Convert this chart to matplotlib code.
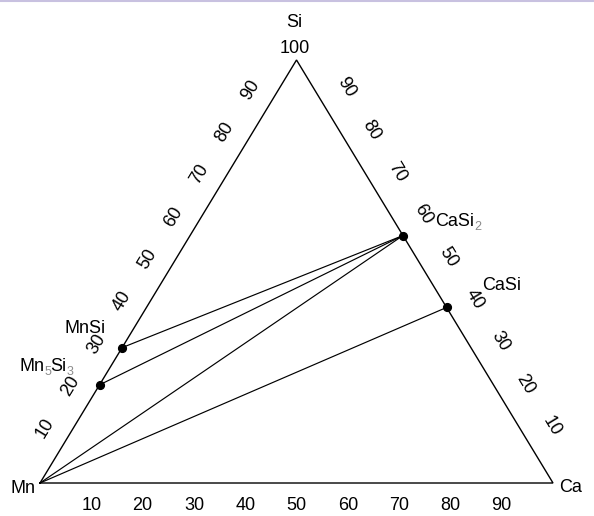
import numpy as np
import matplotlib.pyplot as plt
from matplotlib.lines import Line2D

plt.rcParams['font.family'] = ['Liberation Sans', 'DejaVu Sans']

# phases as drawn on the diagram (Ca %, Si %; rest is Mn)
compounds = ["MnSi", "Mn5Si3", "CaSi2", "CaSi"]
# label pieces: (text, is_subscript)
compound_labels = [
    [("MnSi", False)],
    [("Mn", False), ("5", True), ("Si", False), ("3", True)],
    [("CaSi", False), ("2", True)],
    [("CaSi", False)],
]
ca_pct = [0, 0, 41.5, 58.5]
si_pct = [32, 23.2, 58.5, 41.5]

# corners
corner_names = ["Mn", "Ca", "Si"]
corner_ca = [0, 100, 0]
corner_si = [0, 0, 100]

tie_lines = [("MnSi", "CaSi2"), ("Mn5Si3", "CaSi2"), ("Mn", "CaSi2"), ("Mn", "CaSi")]
ticks = [10, 20, 30, 40, 50, 60, 70, 80, 90]

FS = 13
SUB_FS = 9


def tern(ca, si):
    ca = np.asarray(ca, dtype=float)
    si = np.asarray(si, dtype=float)
    return ca / 100 + si / 200, si / 100


comp = {}
for n, c, s in zip(corner_names, corner_ca, corner_si):
    comp[n] = (c, s)
for n, c, s in zip(compounds, ca_pct, si_pct):
    comp[n] = (c, s)

fig = plt.figure(figsize=(5.94, 5.16), dpi=100)
ax = fig.add_axes([0, 0, 1, 1])
ax.set_xlim(-0.078, 1.0799)
ax.set_ylim(-0.078, 1.1418)
ax.axis('off')
renderer = fig.canvas.get_renderer()

# triangle
tx, ty = tern(corner_ca + corner_ca[:1], corner_si + corner_si[:1])
ax.plot(tx, ty, color='black', lw=1.0, solid_joinstyle='miter')

# tie lines
for a, b in tie_lines:
    x, y = tern([comp[a][0], comp[b][0]], [comp[a][1], comp[b][1]])
    ax.plot(x, y, color='black', lw=0.85)

# compound points
px, py = tern(ca_pct, si_pct)
ax.plot(px, py, 'o', color='black', ms=5.6, zorder=3)

# compound labels, subscripts small and grey
label_offsets = [(-37, 21), (-53, 20), (55, 16), (55, 24)]
for pieces, x, y, off in zip(compound_labels, px, py, label_offsets):
    widths = []
    for txt, sub in pieces:
        t = ax.text(0, 0, txt, fontsize=SUB_FS if sub else FS)
        widths.append(t.get_window_extent(renderer).width)
        t.remove()
    cur = off[0] - sum(widths) / 2
    base = off[1] - 6.5
    for (txt, sub), w in zip(pieces, widths):
        ax.annotate(txt, (x, y), xytext=(cur, base - 4 if sub else base),
                    textcoords='offset pixels', ha='left', va='baseline',
                    fontsize=SUB_FS if sub else FS,
                    color='#8c8c8c' if sub else 'black')
        cur += w - (1 if sub else 0)

# axis tick labels along edges
def disp(ca, si):
    return ax.transData.transform(np.column_stack(tern(ca, si)))[0]

pMn, pCa, pSi = disp(0, 0), disp(100, 0), disp(0, 100)

edges = [
    # start, end, value->(ca, si), outward side, offset px
    (pMn, pSi, lambda v: (0, v), 1, 24),
    (pCa, pSi, lambda v: (100 - v, v), -1, 28),
]
for p0, p1, f, side, dist in edges:
    d = (p1 - p0) / np.hypot(*(p1 - p0))
    normal = side * np.array([-d[1], d[0]])
    ang = np.degrees(np.arctan2(d[1], d[0]))
    if ang > 90:
        ang -= 180
    for v in ticks:
        x, y = tern(*f(v))
        ax.annotate(str(v), (x, y), xytext=normal * dist, textcoords='offset pixels',
                    ha='center', va='center', rotation=ang, rotation_mode='anchor',
                    fontsize=FS)

for v in ticks:
    x, y = tern(v, 0)
    ax.annotate(str(v), (x, y), xytext=(0, -22), textcoords='offset pixels',
                ha='center', va='center', fontsize=FS)

# corner labels
x, y = tern(0, 100)
ax.annotate("100", (x, y), xytext=(-2, 11), textcoords='offset pixels',
            ha='center', va='center', fontsize=FS)
ax.annotate("Si", (x, y), xytext=(-2, 37), textcoords='offset pixels',
            ha='center', va='center', fontsize=FS)
x, y = tern(0, 0)
ax.annotate("Mn", (x, y), xytext=(-5, -5), textcoords='offset pixels',
            ha='right', va='center', fontsize=FS)
x, y = tern(100, 0)
ax.annotate("Ca", (x, y), xytext=(6, -4), textcoords='offset pixels',
            ha='left', va='center', fontsize=FS)

# thin border line at the top of the image
fig.add_artist(Line2D([0, 1], [0.998, 0.998], transform=fig.transFigure,
                      color='#c8c1e0', lw=1.5))

plt.savefig("out.png", dpi=100)
